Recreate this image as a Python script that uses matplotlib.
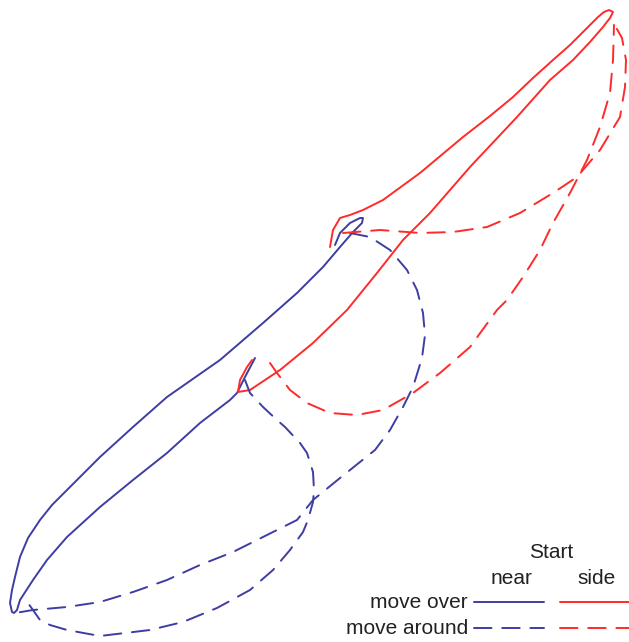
import matplotlib.pyplot as plt

# trajectories traced in image pixel coordinates (x, y with y pointing down)
over_near_x = [255, 245, 237, 230, 200, 167, 133, 100, 67, 47, 33, 20, 17, 14, 12, 10, 12, 15, 20, 28, 40, 52, 67, 100, 133, 167, 220, 263, 297, 323, 340, 353, 362, 363, 360, 350, 340, 335]
over_near_y = [358, 377, 393, 400, 423, 453, 480, 507, 537, 560, 580, 600, 610, 613, 612, 603, 590, 577, 557, 538, 520, 505, 490, 457, 427, 397, 360, 323, 293, 267, 247, 232, 223, 218, 218, 223, 233, 245]

over_side_x = [252, 247, 240, 238, 250, 280, 313, 347, 377, 403, 430, 470, 517, 550, 573, 590, 603, 610, 613, 609, 604, 598, 587, 570, 553, 533, 513, 490, 463, 420, 383, 363, 350, 340, 333, 330]
over_side_y = [360, 367, 380, 392, 390, 370, 343, 310, 273, 240, 213, 167, 117, 80, 60, 42, 27, 18, 12, 10, 12, 17, 28, 45, 60, 78, 97, 116, 137, 173, 200, 210, 215, 218, 230, 247]

around_near1_x = [350, 370, 390, 407, 417, 423, 425, 422, 413, 403, 390, 375, 340, 313, 297, 267, 233, 200, 167, 133, 100, 67, 33, 15]
around_near1_y = [233, 237, 250, 270, 290, 313, 335, 358, 387, 407, 430, 450, 478, 500, 520, 535, 552, 565, 580, 592, 602, 607, 610, 613]

around_near2_x = [245, 250, 263, 277, 285, 300, 307, 313, 314, 313, 308, 303, 290, 273, 250, 217, 183, 150, 100, 67, 50, 40, 28]
around_near2_y = [380, 393, 407, 420, 427, 443, 453, 472, 490, 502, 520, 532, 550, 570, 590, 608, 622, 630, 636, 630, 625, 620, 603]

around_side1_x = [343, 380, 420, 453, 487, 520, 553, 577, 600, 620, 625, 626, 622, 613]
around_side1_y = [233, 230, 233, 232, 227, 213, 193, 177, 150, 117, 87, 60, 38, 22]

around_side2_x = [270, 277, 290, 307, 330, 357, 383, 413, 440, 470, 497, 507, 523, 540, 553, 570, 587, 600, 610, 613, 614]
around_side2_y = [363, 373, 390, 403, 413, 415, 410, 393, 373, 347, 310, 300, 277, 250, 223, 193, 160, 127, 93, 60, 25]

blue = "#3d3da3"
red = "#ff2a2a"
dash = (0, (9, 5.5))

fig = plt.figure(figsize=(6.29, 6.42), dpi=100)
ax = fig.add_axes([0, 0, 1, 1])
ax.set_xlim(0, 629)
ax.set_ylim(642, 0)
ax.axis("off")

kw = dict(lw=1.4, solid_joinstyle="round", solid_capstyle="round", dash_capstyle="round")
ax.plot(over_near_x, over_near_y, color=blue, **kw)
ax.plot(over_side_x, over_side_y, color=red, **kw)
ax.plot(around_near1_x, around_near1_y, color=blue, ls=dash, **kw)
ax.plot(around_near2_x, around_near2_y, color=blue, ls=dash, **kw)
ax.plot(around_side1_x, around_side1_y, color=red, ls=dash, **kw)
ax.plot(around_side2_x, around_side2_y, color=red, ls=dash, **kw)

# hand made legend
font = dict(family="Liberation Sans", fontsize=15, color="#222222")
ax.text(551, 553, "Start", ha="center", va="center", **font)
ax.text(511, 578, "near", ha="center", va="center", **font)
ax.text(597, 578, "side", ha="center", va="center", **font)
ax.text(468, 603, "move over", ha="right", va="center", **font)
ax.text(468, 628, "move around", ha="right", va="center", **font)
ax.plot([474, 544], [602, 602], color=blue, **kw)
ax.plot([560, 629], [602, 602], color=red, **kw)
ax.plot([474, 544], [628, 628], color=blue, ls=dash, **kw)
ax.plot([560, 629], [628, 628], color=red, ls=dash, **kw)

fig.savefig("out.png", dpi=100)
